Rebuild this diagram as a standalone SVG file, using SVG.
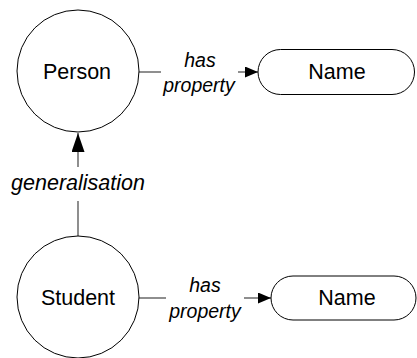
<svg xmlns="http://www.w3.org/2000/svg" width="417" height="358" viewBox="0 0 417 358">
<defs>
<marker id="arr" viewBox="0 0 13 11" refX="13" refY="5.5" markerWidth="13" markerHeight="11" markerUnits="userSpaceOnUse" orient="auto">
<path d="M0,0 L13,5.5 L0,11 Z" fill="#000"/>
</marker>
<marker id="arrL" viewBox="0 0 19 13" refX="19" refY="6.5" markerWidth="19" markerHeight="13" markerUnits="userSpaceOnUse" orient="auto">
<path d="M0,0 L19,6.5 L0,13 Z" fill="#000"/>
</marker>
</defs>
<style>
.node{fill:#fff;stroke:#000;stroke-width:1}
.lbl{font-family:"Liberation Sans",Arial,sans-serif;font-size:21.5px;fill:#000;text-anchor:middle}
.elbl{font-family:"Liberation Sans",Arial,sans-serif;font-size:19.5px;font-style:italic;fill:#000;text-anchor:middle}
.edge{stroke:#444;stroke-width:1.2;fill:none}
</style>
<rect width="417" height="358" fill="#fff"/>
<g id="connectors">
<g id="e-person-name">
<line class="edge" x1="139" y1="72" x2="161" y2="72"/>
<line class="edge" x1="238" y1="72" x2="258" y2="72" marker-end="url(#arr)"/>
<text class="elbl" x="200" y="67">has</text>
<text class="elbl" x="199" y="92">property</text>
</g>
<g id="e-student-name">
<line class="edge" x1="139" y1="298" x2="166" y2="298"/>
<line class="edge" x1="244" y1="298" x2="271" y2="298" marker-end="url(#arr)"/>
<text class="elbl" x="205" y="292">has</text>
<text class="elbl" x="205" y="318">property</text>
</g>
<g id="e-generalisation">
<line class="edge" x1="78" y1="236" x2="78" y2="201"/>
<line class="edge" x1="78" y1="167" x2="78" y2="133" marker-end="url(#arrL)"/>
<text class="elbl" x="78" y="190" style="font-size:21.5px">generalisation</text>
</g>
</g>
<g id="person">
<circle class="node" cx="78" cy="71" r="61"/>
<text class="lbl" x="77" y="79">Person</text>
</g>
<g id="name1">
<rect class="node" x="258" y="49.5" width="156.5" height="45" rx="22.5"/>
<text class="lbl" x="337" y="79">Name</text>
</g>
<g id="student">
<circle class="node" cx="78" cy="297" r="61"/>
<text class="lbl" x="78" y="305">Student</text>
</g>
<g id="name2">
<rect class="node" x="271" y="276" width="145" height="44" rx="22"/>
<text class="lbl" x="347" y="305">Name</text>
</g>
</svg>
